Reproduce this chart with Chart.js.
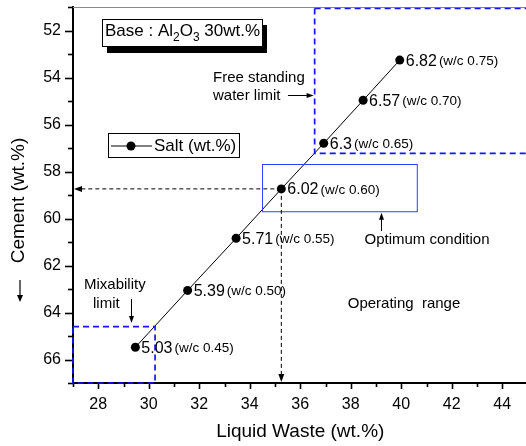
<!DOCTYPE html>
<html><head><meta charset="utf-8">
<script src="https://cdn.jsdelivr.net/npm/chart.js@4/dist/chart.umd.min.js"></script>
<style>
html,body{margin:0;padding:0;background:#fff;overflow:hidden;width:526px;height:446px}
#wrap{position:relative;width:545px;height:446px}
</style></head>
<body><div id="wrap"><canvas id="c" width="545" height="446"></canvas></div>
<script>
// ---- data ----
const liquidWaste = [29.47, 31.54, 33.46, 35.25, 36.93, 38.49, 39.94];
const cement = [65.48, 63.06, 60.84, 58.74, 56.80, 54.97, 53.26];
const saltLabels = ['5.03', '5.39', '5.71', '6.02', '6.3', '6.57', '6.82'];
const wcLabels = ['(w/c 0.45)', '(w/c 0.50)', '(w/c 0.55)', '(w/c 0.60)', '(w/c 0.65)', '(w/c 0.70)', '(w/c 0.75)'];
const xTickLabels = [28, 30, 32, 34, 36, 38, 40, 42, 44];
const yTickLabels = [52, 54, 56, 58, 60, 62, 64, 66];
const mixabilityLimit = { x: 30.25, y: 64.6 };
const freeWaterLimit = { x: 36.57, y: 57.23 };
const optimumRange = { xMin: 34.47, xMax: 40.6, yMin: 57.66, yMax: 59.67 };
const optimumIndex = 3;

const FONT = '"Liberation Sans", Arial, Helvetica, sans-serif';
const BLUE = '#1414ff';

function arrowHead(ctx, x, y, angle, len, half) {
  ctx.save();
  ctx.translate(x, y);
  ctx.rotate(angle);
  ctx.beginPath();
  ctx.moveTo(0, 0);
  ctx.lineTo(-len, -half);
  ctx.lineTo(-len, half);
  ctx.closePath();
  ctx.fill();
  ctx.restore();
}

const overlay = {
  id: 'overlay',
  afterDraw(chart) {
    const ctx = chart.ctx;
    const xs = chart.scales.x, ys = chart.scales.y;
    const ca = chart.chartArea;
    const X = v => xs.getPixelForValue(v), Y = v => ys.getPixelForValue(v);
    ctx.save();

    // top frame line
    ctx.strokeStyle = '#8a8a8a'; ctx.lineWidth = 1;
    ctx.beginPath(); ctx.moveTo(ca.left, ca.top + 0.5); ctx.lineTo(ca.right, ca.top + 0.5); ctx.stroke();

    // tick marks (major/minor)
    ctx.strokeStyle = '#000'; ctx.lineWidth = 1.6;
    xs.ticks.forEach(t => {
      const major = t.value % 2 === 0;
      const px = Math.round(X(t.value)) + 0.5;
      ctx.beginPath(); ctx.moveTo(px, ca.bottom); ctx.lineTo(px, ca.bottom + (major ? 6 : 4)); ctx.stroke();
    });
    ys.ticks.forEach(t => {
      const major = t.value % 2 === 0;
      const py = Math.round(Y(t.value)) + 0.5;
      ctx.beginPath(); ctx.moveTo(ca.left, py); ctx.lineTo(ca.left - (major ? 8 : 5), py); ctx.stroke();
    });

    // blue dashed limit regions
    ctx.strokeStyle = BLUE; ctx.lineWidth = 1.7; ctx.setLineDash([6, 4]);
    ctx.strokeRect(X(27), Y(mixabilityLimit.y), X(mixabilityLimit.x) - X(27), Y(67) - Y(mixabilityLimit.y));
    ctx.beginPath();
    ctx.moveTo(X(freeWaterLimit.x), Y(51) + 1.5);
    ctx.lineTo(X(freeWaterLimit.x), Y(freeWaterLimit.y));
    ctx.lineTo(X(45), Y(freeWaterLimit.y));
    ctx.moveTo(X(freeWaterLimit.x), Y(51) + 1.5);
    ctx.lineTo(X(45), Y(51) + 1.5);
    ctx.stroke();
    ctx.setLineDash([]);

    // optimum box
    ctx.strokeStyle = '#3a3aff'; ctx.lineWidth = 1;
    ctx.strokeRect(Math.round(X(optimumRange.xMin)) + 0.5, Math.round(Y(optimumRange.yMin)) + 0.5,
      X(optimumRange.xMax) - X(optimumRange.xMin), Y(optimumRange.yMax) - Y(optimumRange.yMin));

    // dashed guide arrows from optimum point
    const ox = X(liquidWaste[optimumIndex]), oy = Y(cement[optimumIndex]);
    ctx.strokeStyle = '#000'; ctx.fillStyle = '#000'; ctx.lineWidth = 1; ctx.setLineDash([4, 3]);
    ctx.beginPath(); ctx.moveTo(ox, oy); ctx.lineTo(ca.left + 6, oy); ctx.stroke();
    ctx.beginPath(); ctx.moveTo(ox, oy); ctx.lineTo(ox, ca.bottom - 6); ctx.stroke();
    ctx.setLineDash([]);
    arrowHead(ctx, ca.left + 1, oy, Math.PI, 8, 3);
    arrowHead(ctx, ox, ca.bottom - 1, Math.PI / 2, 8, 3);

    // point labels
    ctx.fillStyle = '#000'; ctx.textBaseline = 'middle'; ctx.textAlign = 'left';
    liquidWaste.forEach((lx, i) => {
      const px = X(lx) + 6, py = Y(cement[i]) + 1;
      ctx.font = '16px ' + FONT;
      ctx.fillText(saltLabels[i], px, py);
      const w = ctx.measureText(saltLabels[i]).width;
      ctx.font = '13.5px ' + FONT;
      ctx.fillText(wcLabels[i], px + w + 2, py);
    });

    // text annotations
    ctx.textBaseline = 'alphabetic';
    ctx.font = '15px ' + FONT;
    ctx.fillText('Free standing', 213, 82);
    ctx.fillText('water limit', 213, 100);
    ctx.lineWidth = 1;
    ctx.beginPath(); ctx.moveTo(288, 95.5); ctx.lineTo(308, 95.5); ctx.stroke();
    arrowHead(ctx, X(freeWaterLimit.x) - 1, 95.5, 0, 7, 2.5);

    ctx.fillText('Mixability', 84, 289);
    ctx.fillText('limit', 93, 308);
    ctx.beginPath(); ctx.moveTo(131.5, 299); ctx.lineTo(131.5, 316); ctx.stroke();
    arrowHead(ctx, 131.5, 323, Math.PI / 2, 7, 2.5);

    ctx.textAlign = 'center';
    ctx.fillText('Optimum condition', 427, 244);
    ctx.beginPath(); ctx.moveTo(381.5, 231); ctx.lineTo(381.5, 219); ctx.stroke();
    arrowHead(ctx, 381.5, Y(optimumRange.yMax) + 2, -Math.PI / 2, 7, 2.5);
    ctx.fillText('Operating  range', 404, 308);

    // legend box
    ctx.textAlign = 'left';
    ctx.fillStyle = '#fff'; ctx.fillRect(108.5, 133.5, 131, 24);
    ctx.strokeStyle = '#000'; ctx.lineWidth = 1;
    ctx.strokeRect(108.5, 133.5, 131, 24);
    ctx.beginPath(); ctx.moveTo(111, 146); ctx.lineTo(152, 146); ctx.stroke();
    ctx.fillStyle = '#000';
    ctx.beginPath(); ctx.arc(131, 146, 4.5, 0, Math.PI * 2); ctx.fill();
    ctx.font = '17px ' + FONT; ctx.textBaseline = 'middle';
    ctx.fillText(chart.data.datasets[0].label, 154, 146);

    // base box with shadow
    ctx.fillStyle = '#000000';
    ctx.fillRect(107, 25, 160, 28);
    ctx.fillStyle = '#ffffff';
    ctx.fillRect(102.5, 19.5, 160, 27);
    ctx.strokeStyle = '#000'; ctx.lineWidth = 1;
    ctx.strokeRect(102.5, 19.5, 160, 27);
    ctx.fillStyle = '#000'; ctx.textBaseline = 'alphabetic';
    let tx = 105;
    const seg = (t, size, dy) => { ctx.font = size + 'px ' + FONT; ctx.fillText(t, tx, 36 + dy); tx += ctx.measureText(t).width; };
    seg('Base : Al', 17, 0); seg('2', 12, 5); seg('O', 17, 0); seg('3', 12, 5); seg(' 30wt.%', 17, 0);

    // y axis title with arrow
    ctx.save();
    ctx.translate(19, 200.5);
    ctx.rotate(-Math.PI / 2);
    ctx.textAlign = 'center'; ctx.textBaseline = 'middle';
    ctx.font = '19px ' + FONT;
    ctx.fillText('Cement (wt.%)', 0, 0);
    ctx.restore();
    ctx.lineWidth = 1.2;
    ctx.beginPath(); ctx.moveTo(20, 280); ctx.lineTo(20, 296); ctx.stroke();
    arrowHead(ctx, 20, 302, Math.PI / 2, 7, 3);

    ctx.restore();
  }
};

new Chart(document.getElementById('c'), {
  type: 'scatter',
  data: {
    datasets: [{
      label: 'Salt (wt.%)',
      data: liquidWaste.map((x, i) => ({ x, y: cement[i] })),
      showLine: true,
      borderColor: '#000',
      borderWidth: 1,
      pointRadius: 4.5,
      pointBackgroundColor: '#000',
      pointBorderColor: '#000',
      pointBorderWidth: 0
    }]
  },
  options: {
    responsive: false,
    animation: false,
    devicePixelRatio: 1,
    layout: { padding: { top: 7, right: 17.5, left: 0, bottom: 0 } },
    plugins: { legend: { display: false }, tooltip: { enabled: false } },
    scales: {
      x: {
        type: 'linear', min: 27, max: 45,
        afterFit(s) { s.height = 63; s.paddingLeft = 0; s.paddingRight = 0; },
        ticks: {
          stepSize: 1, autoSkip: false, maxRotation: 0, padding: 6, color: '#000',
          font: { family: FONT, size: 16 },
          callback: v => xTickLabels.includes(v) ? String(v) : ''
        },
        grid: { drawOnChartArea: false, color: 'rgba(0,0,0,0)', tickLength: 6 },
        border: { color: '#000', width: 2 },
        title: { display: true, text: 'Liquid Waste (wt.%)', color: '#000', font: { family: FONT, size: 19 }, padding: { top: 0, bottom: 3 } }
      },
      y: {
        type: 'linear', min: 51, max: 67, reverse: true,
        afterFit(s) { s.width = 73; s.paddingTop = 0; s.paddingBottom = 0; },
        ticks: {
          stepSize: 1, autoSkip: false, padding: 4, color: '#000',
          font: { family: FONT, size: 16 },
          callback: v => yTickLabels.includes(v) ? String(v) : ''
        },
        grid: { drawOnChartArea: false, color: 'rgba(0,0,0,0)', tickLength: 8 },
        border: { color: '#000', width: 2 },
        title: { display: false }
      }
    }
  },
  plugins: [overlay]
});
</script>
</body></html>
